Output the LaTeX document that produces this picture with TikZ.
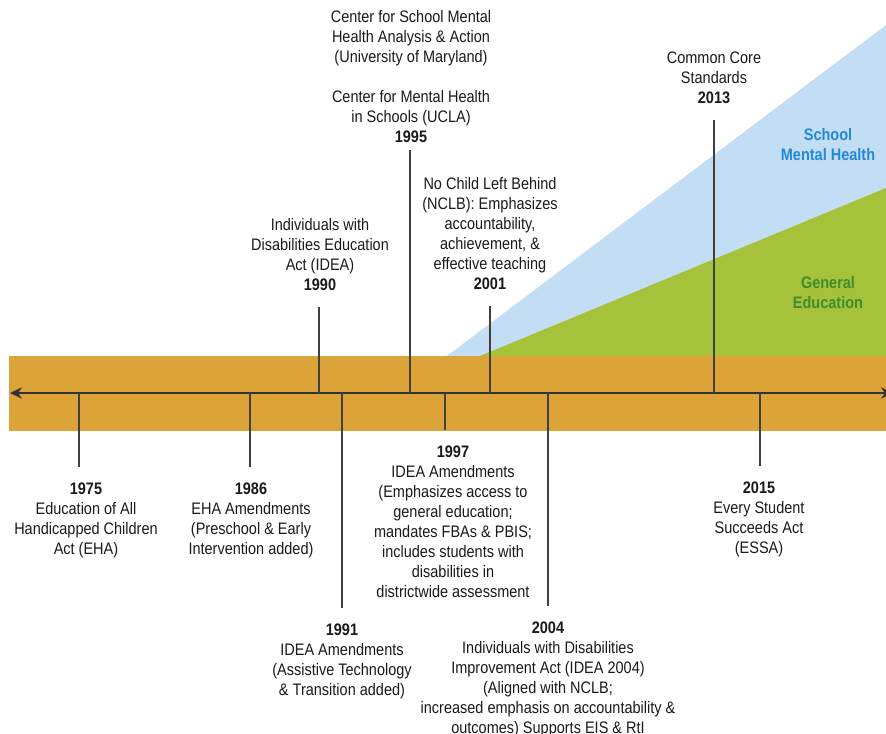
\documentclass[tikz,border=0pt]{standalone}
\usepackage{fontspec}
\setmainfont[FakeStretch=0.87]{Liberation Sans}
\usetikzlibrary{arrows.meta}
\definecolor{Band}{HTML}{DCA339}
\definecolor{SkyFill}{HTML}{C3DDF5}
\definecolor{Leaf}{HTML}{A6C23B}
\definecolor{SkyText}{HTML}{2288D8}
\definecolor{LeafText}{HTML}{3F8C2F}
\definecolor{Ink}{HTML}{1A1A1A}

\begin{document}
\begin{tikzpicture}[x=0.75pt,y=-0.75pt,
every node/.style={font=\fontsize{12.5}{15}\selectfont,align=center,inner sep=0pt,text=Ink},
stem/.style={draw=black!75,line width=1.1pt,shorten >=12pt},
axis/.style={draw=black!80,line width=1.5pt,{Stealth[length=9pt,width=8.5pt]}-{Stealth[length=9pt,width=8.5pt]}},
zone/.style={font=\fontsize{12.5}{15}\selectfont\bfseries}]
\useasboundingbox (0,0) rectangle (886,734);
% growing areas behind the band
\fill[SkyFill] (447,356) -- (886,25) -- (886,356) -- cycle;
\fill[Leaf] (480,356) -- (886,188) -- (886,356) -- cycle;
\fill[Band] (9,356) rectangle (886,431);
\node[zone,text=SkyText] (smh) at (828,145) {School\\Mental Health};
\node[zone,text=LeafText] (gened) at (828,293) {General\\Education};
% axis
\coordinate (past) at (10,393);\coordinate (future) at (893,393);
\draw[axis] (past)--(future);
% events below the axis
\node[anchor=north] (e1975) at (86,483) {\textbf{1975}\\Education of All\\Handicapped Children\\Act (EHA)};
\node[anchor=north] (e1986) at (251,483) {\textbf{1986}\\EHA Amendments\\(Preschool \& Early\\Intervention added)};
\node[anchor=north] (e1991) at (342,624) {\textbf{1991}\\IDEA Amendments\\(Assistive Technology\\\& Transition added)};
\node[anchor=north] (e1997) at (453,446) {\textbf{1997}\\IDEA Amendments\\(Emphasizes access to\\general education;\\mandates FBAs \& PBIS;\\includes students with\\disabilities in\\districtwide assessment};
\node[anchor=north] (e2004) at (548,622) {\textbf{2004}\\Individuals with Disabilities\\Improvement Act (IDEA 2004)\\(Aligned with NCLB;\\increased emphasis on accountability \&\\outcomes) Supports EIS \& RtI};
\node[anchor=north] (e2015) at (759,482) {\textbf{2015}\\Every Student\\Succeeds Act\\(ESSA)};
% events above the axis
\node[anchor=south] (e1990) at (320,291) {Individuals with\\Disabilities Education\\Act (IDEA)\\\textbf{1990}};
\node[anchor=south] (e1995) at (411,143) {Center for School Mental\\Health Analysis \& Action\\(University of Maryland)\\[15pt]Center for Mental Health\\in Schools (UCLA)\\\textbf{1995}};
\node[anchor=south] (e2001) at (490,290) {No Child Left Behind\\(NCLB): Emphasizes\\accountability,\\achievement, \&\\effective teaching\\\textbf{2001}};
\node[anchor=south] (e2013) at (714,104) {Common Core\\Standards\\\textbf{2013}};
% ticks
\coordinate (t1975) at (79,393);\coordinate (t1986) at (250,393);
\coordinate (t1990) at (319,393);\coordinate (t1991) at (342,393);
\coordinate (t1995) at (410,393);\coordinate (t1997) at (445,393);
\coordinate (t2001) at (490,393);\coordinate (t2004) at (548,393);
\coordinate (t2013) at (714,393);\coordinate (t2015) at (760,393);
\draw[stem] (t1975)--(t1975 |- e1975.north);\draw[stem] (t1986)--(t1986 |- e1986.north);
\draw[stem] (t1991)--(t1991 |- e1991.north);\draw[stem] (t1997)--(t1997 |- e1997.north);
\draw[stem] (t2004)--(t2004 |- e2004.north);\draw[stem] (t2015)--(t2015 |- e2015.north);
\draw[stem] (t1990)--(t1990 |- e1990.south);\draw[stem,shorten >=5pt] (t1995)--(t1995 |- e1995.south);
\draw[stem] (t2001)--(t2001 |- e2001.south);\draw[stem] (t2013)--(t2013 |- e2013.south);
\end{tikzpicture}
\end{document}
